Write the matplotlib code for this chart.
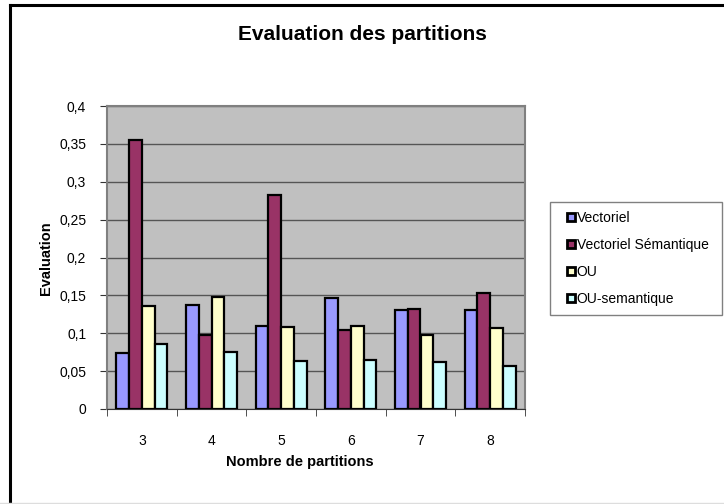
import numpy as np
import matplotlib.pyplot as plt
from matplotlib.lines import Line2D
from matplotlib.patches import Rectangle
from matplotlib.ticker import FuncFormatter, FixedLocator

plt.rcParams['font.family'] = ['Liberation Sans', 'DejaVu Sans']

partitions = ['3', '4', '5', '6', '7', '8']
series = ['Vectoriel', 'Vectoriel Sémantique', 'OU', 'OU-semantique']
vectoriel = [0.074, 0.137, 0.109, 0.147, 0.131, 0.131]
vect_sem = [0.355, 0.098, 0.282, 0.104, 0.132, 0.153]
ou = [0.136, 0.148, 0.108, 0.110, 0.098, 0.107]
ou_sem = [0.086, 0.075, 0.064, 0.065, 0.062, 0.057]
colors = ['#9999FF', '#993366', '#FFFFCC', '#CCFFFF']

W, H = 724, 504
fig = plt.figure(figsize=(W / 100, H / 100), dpi=100)
ax = fig.add_axes([107 / W, 1 - 409 / H, 418 / W, 303 / H])
ax.set_facecolor('#C0C0C0')

x = np.arange(len(partitions))
bw = 0.183
for i, (vals, c, name) in enumerate(zip([vectoriel, vect_sem, ou, ou_sem], colors, series)):
    ax.bar(x + (i - 1.5) * bw, vals, bw, color=c, edgecolor='black',
           linewidth=1.6, label=name, zorder=3)

ax.set_xlim(-0.5, len(partitions) - 0.5)
ax.set_ylim(0, 0.4)
ax.set_yticks(np.arange(0, 0.401, 0.05))
ax.yaxis.set_major_formatter(FuncFormatter(lambda v, p: ('%g' % round(v, 2)).replace('.', ',')))
ax.grid(axis='y', color='#555555', linewidth=1, zorder=1)
ax.set_xticks(x)
ax.set_xticklabels(partitions)
ax.xaxis.set_minor_locator(FixedLocator(np.arange(-0.5, len(partitions), 1)))
ax.tick_params(axis='x', which='major', length=0, pad=18, labelsize=10)
ax.tick_params(axis='x', which='minor', length=5, color='#333333')
ax.tick_params(axis='y', length=5, pad=10, labelsize=10, color='#333333')

for s in ['left', 'top', 'right']:
    ax.spines[s].set_color('#808080')
    ax.spines[s].set_linewidth(1.5)
ax.spines['bottom'].set_color('#333333')

fig.text(362 / W, 1 - 34 / H, 'Evaluation des partitions', ha='center', va='center',
         fontsize=15, fontweight='bold')
fig.text(300 / W, 1 - 462 / H, 'Nombre de partitions', ha='center', va='center',
         fontsize=10.5, fontweight='bold')
fig.text(46 / W, 1 - 258 / H, 'Evaluation', ha='center', va='center',
         rotation=90, fontsize=10.5, fontweight='bold')

# legend box drawn separately (behind the axes) so the entries can sit further in
fig.add_artist(Rectangle((550 / W, 1 - 315 / H), 172 / W, 113 / H, transform=fig.transFigure,
                         facecolor='white', edgecolor='#808080', linewidth=1, zorder=-1))
leg = ax.legend(loc='upper left', bbox_to_anchor=(567 / W, 1 - 211 / H),
                bbox_transform=fig.transFigure, fontsize=10, frameon=False,
                handlelength=0.55, handleheight=0.55, handletextpad=0.15,
                labelspacing=0.93, borderpad=0, borderaxespad=0)
for h in leg.legend_handles:
    h.set_linewidth(2)

# outer chart border
fig.add_artist(Line2D([10 / W, 10 / W], [1 - 503 / H, 1 - 5 / H], color='black', lw=2.2,
                      transform=fig.transFigure))
fig.add_artist(Line2D([10 / W, 1], [1 - 5 / H, 1 - 5 / H], color='black', lw=2.2,
                      transform=fig.transFigure))
fig.add_artist(Line2D([0, 1], [1 - 503 / H, 1 - 503 / H], color='#DDDDDD', lw=1,
                      transform=fig.transFigure))

fig.savefig('out.png', dpi=100)
